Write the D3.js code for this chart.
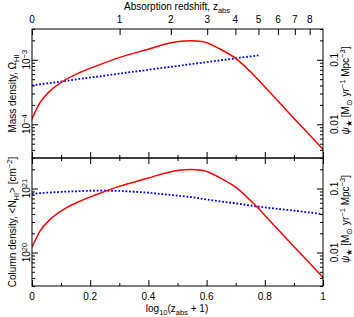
<!DOCTYPE html>
<html lang="en">
<head>
<meta charset="UTF-8">
<title>HI density and star formation history</title>
<script src="https://cdnjs.cloudflare.com/ajax/libs/d3/7.8.5/d3.min.js"></script>
<style>
    body { margin: 0; background: #fff; }
    svg text { font-family: "Liberation Sans", Arial, sans-serif; font-size: 10px; fill: #000; }
    .frame { fill: none; stroke: #000; stroke-width: 1; }
    .axis path { display: none; }
    .axis line { stroke: #000; stroke-width: 1; }
</style>
</head>
<body>
<div id="chart"></div>
<script>
    // x positions are log10(1 + z)
    const zTicks = [0, 1, 2, 3, 4, 5, 6, 7, 8];
    const xTicks = [0, 0.2, 0.4, 0.6, 0.8, 1];
    const xMinor = [0.1, 0.3, 0.5, 0.7, 0.9];

    // star formation rate density (right axes), M_sun / yr / Mpc^3
    const sfrX = [0, 0.0275, 0.062, 0.108, 0.165, 0.222, 0.302, 0.394, 0.474, 0.543, 0.588, 0.646, 0.703, 0.759, 0.818, 0.875, 0.931, 0.99, 1.0];
    const sfrVals = [0.0121, 0.0216, 0.0328, 0.047, 0.0635, 0.0805, 0.109, 0.143, 0.182, 0.198, 0.191, 0.147, 0.1026, 0.0598, 0.0311, 0.0164, 0.0088, 0.00457, 0.00407];

    // HI mass density (top panel, left axis)
    const omegaX = [0, 0.2, 0.4, 0.6, 0.778];
    const omegaVals = [4.0e-4, 5.3e-4, 7.0e-4, 9.2e-4, 1.17e-3];

    // mean HI column density (bottom panel, left axis), cm^-2
    const colX = [0, 0.05, 0.1, 0.15, 0.2, 0.25, 0.3, 0.35, 0.4, 0.45, 0.5, 0.55, 0.6, 0.7, 0.8, 0.9, 1.0];
    const colVals = [8.28e20, 8.61e20, 8.87e20, 9.06e20, 9.23e20, 9.25e20, 9.16e20, 8.91e20, 8.61e20, 8.17e20, 7.76e20, 7.31e20, 6.76e20, 5.86e20, 5.07e20, 4.52e20, 3.98e20];

    const width = 354, height = 317;
    const left = 32, right = 323;
    const top1 = 29, bot1 = 158, top2 = 158, bot2 = 286;

    const svg = d3.select("#chart").append("svg")
        .attr("width", width)
        .attr("height", height);

    const x = d3.scaleLinear().domain([0, 1]).range([left, right]);

    const panels = [
        {
            top: top1, bot: bot1,
            yL: d3.scaleLog().domain([3e-5, 3e-3]).range([bot1, top1]),
            leftMajor: [1e-4, 1e-3], leftExp: ["\u22124", "\u22123"],
            leftTitle: ["Mass density, \u03A9", "HI", ""],
            blueX: omegaX, blueVals: omegaVals
        },
        {
            top: top2, bot: bot2,
            yL: d3.scaleLog().domain([3e19, 3e21]).range([bot2, top2]),
            leftMajor: [1e20, 1e21], leftExp: ["20", "21"],
            leftTitle: ["Column density, <N", "HI", "> [cm"],
            blueX: colX, blueVals: colVals
        }
    ];

    function logMinor(scale) {
        const [a, b] = scale.domain();
        const out = [];
        for (let e = Math.floor(Math.log10(a)); e <= Math.ceil(Math.log10(b)); e++) {
            for (let m = 1; m < 10; m++) {
                const v = m * Math.pow(10, e);
                if (v >= a * 0.999 && v <= b * 1.001) out.push(v);
            }
        }
        return out;
    }

    panels.forEach((p, pi) => {
        const yR = d3.scaleLog().domain([0.003, 0.3]).range([p.bot, p.top]);
        const g = svg.append("g");

        // y ticks, left and right, pointing inward
        const lMinor = logMinor(p.yL).filter(v => !p.leftMajor.includes(v));
        const rMajor = [0.01, 0.1];
        const rMinor = logMinor(yR).filter(v => !rMajor.some(m => Math.abs(m - v) < 1e-9));

        g.append("g").attr("class", "axis").attr("transform", `translate(${left},0)`)
            .call(d3.axisLeft(p.yL).tickValues(p.leftMajor).tickSize(-6).tickFormat(""));
        g.append("g").attr("class", "axis").attr("transform", `translate(${left},0)`)
            .call(d3.axisLeft(p.yL).tickValues(lMinor).tickSize(-3).tickFormat(""));
        g.append("g").attr("class", "axis").attr("transform", `translate(${right},0)`)
            .call(d3.axisRight(yR).tickValues(rMajor).tickSize(-6).tickFormat(""));
        g.append("g").attr("class", "axis").attr("transform", `translate(${right},0)`)
            .call(d3.axisRight(yR).tickValues(rMinor).tickSize(-3).tickFormat(""));

        // x ticks on the bottom of each panel
        g.append("g").attr("class", "axis").attr("transform", `translate(0,${p.bot})`)
            .call(d3.axisBottom(x).tickValues(xTicks).tickSize(-6).tickFormat(""));
        g.append("g").attr("class", "axis").attr("transform", `translate(0,${p.bot})`)
            .call(d3.axisBottom(x).tickValues(xMinor).tickSize(-3).tickFormat(""));

        // x ticks on top of bottom panel
        if (pi === 1) {
            g.append("g").attr("class", "axis").attr("transform", `translate(0,${p.top})`)
                .call(d3.axisTop(x).tickValues(xTicks).tickSize(-6).tickFormat(""));
            g.append("g").attr("class", "axis").attr("transform", `translate(0,${p.top})`)
                .call(d3.axisTop(x).tickValues(xMinor).tickSize(-3).tickFormat(""));
        }

        // left tick labels (rotated)
        p.leftMajor.forEach((v, i) => {
            const t = g.append("text")
                .attr("transform", `translate(${left - 2},${p.yL(v)}) rotate(-90)`)
                .attr("text-anchor", "middle");
            t.append("tspan").text("10");
            t.append("tspan").attr("dy", "-3.5").attr("font-size", "7.5px").text(p.leftExp[i]);
        });

        // right tick labels
        rMajor.forEach(v => {
            g.append("text")
                .attr("transform", `translate(${right + 15},${yR(v)}) rotate(-90)`)
                .attr("text-anchor", "middle")
                .text(v === 0.1 ? "0.1" : "0.01");
        });

        // left title
        const cy = (p.top + p.bot) / 2;
        const lt = g.append("text")
            .attr("transform", `translate(16,${cy}) rotate(-90)`)
            .attr("text-anchor", "middle");
        lt.append("tspan").text(p.leftTitle[0]);
        lt.append("tspan").attr("dy", "2.5").attr("font-size", "7.5px").text(p.leftTitle[1]);
        if (pi === 1) {
            lt.append("tspan").attr("dy", "-2.5").text(p.leftTitle[2]);
            lt.append("tspan").attr("dy", "-4").attr("font-size", "7.5px").text("\u22122");
            lt.append("tspan").attr("dy", "4").text("]");
        }

        // right title
        const rt = g.append("text")
            .attr("transform", `translate(349,${cy - 3}) rotate(-90)`)
            .attr("text-anchor", "middle");
        rt.append("tspan").attr("font-style", "italic").text("\u03C8");
        rt.append("tspan").attr("dy", "2.5").attr("font-size", "7.5px").text("\u2605");
        rt.append("tspan").attr("dy", "-2.5").text(" [M");
        rt.append("tspan").attr("dy", "2.5").attr("font-size", "7.5px").text("\u2299");
        rt.append("tspan").attr("dy", "-2.5").text(" yr");
        rt.append("tspan").attr("dy", "-4").attr("font-size", "7.5px").text("\u22121");
        rt.append("tspan").attr("dy", "4").text(" Mpc");
        rt.append("tspan").attr("dy", "-4").attr("font-size", "7.5px").text("\u22123");
        rt.append("tspan").attr("dy", "4").text("]");

        // clip
        const clipId = "clip" + pi;
        svg.append("clipPath").attr("id", clipId).append("rect")
            .attr("x", left).attr("y", p.top).attr("width", right - left).attr("height", p.bot - p.top);

        // blue dotted curve
        const blueLine = d3.line()
            .x(d => x(d[0]))
            .y(d => p.yL(d[1]))
            .curve(d3.curveMonotoneX);
        g.append("path")
            .attr("clip-path", `url(#${clipId})`)
            .attr("d", blueLine(d3.zip(p.blueX, p.blueVals)))
            .attr("fill", "none")
            .attr("stroke", "#0000ff")
            .attr("stroke-width", 1.8)
            .attr("stroke-dasharray", "1.8,1.8");

        // red SFR curve
        const redLine = d3.line()
            .x(d => x(d[0]))
            .y(d => yR(d[1]))
            .curve(d3.curveMonotoneX);
        g.append("path")
            .attr("clip-path", `url(#${clipId})`)
            .attr("d", redLine(d3.zip(sfrX, sfrVals)))
            .attr("fill", "none")
            .attr("stroke", "#ff0000")
            .attr("stroke-width", 1.5);

        g.append("rect").attr("class", "frame")
            .attr("x", left).attr("y", p.top).attr("width", right - left).attr("height", p.bot - p.top);
    });

    // top redshift axis
    svg.append("g").attr("class", "axis").attr("transform", `translate(0,${top1})`)
        .call(d3.axisTop(x).tickValues(zTicks.map(z => Math.log10(1 + z))).tickSize(-6).tickFormat(""));
    zTicks.forEach(z => {
        svg.append("text")
            .attr("x", x(Math.log10(1 + z)))
            .attr("y", 23)
            .attr("text-anchor", "middle")
            .text(z);
    });
    const tt = svg.append("text").attr("x", 177).attr("y", 10).attr("text-anchor", "middle");
    tt.append("tspan").text("Absorption redshift, z");
    tt.append("tspan").attr("dy", "2.5").attr("font-size", "7.5px").text("abs");

    // bottom axis labels
    xTicks.forEach(v => {
        svg.append("text")
            .attr("x", x(v))
            .attr("y", 300)
            .attr("text-anchor", "middle")
            .text(v === 0 ? "0" : v === 1 ? "1" : v.toFixed(1));
    });
    const bt = svg.append("text").attr("x", 177).attr("y", 312).attr("text-anchor", "middle");
    bt.append("tspan").text("log");
    bt.append("tspan").attr("dy", "2.5").attr("font-size", "7.5px").text("10");
    bt.append("tspan").attr("dy", "-2.5").text("(z");
    bt.append("tspan").attr("dy", "2.5").attr("font-size", "7.5px").text("abs");
    bt.append("tspan").attr("dy", "-2.5").text(" + 1)");
</script>
</body>
</html>
